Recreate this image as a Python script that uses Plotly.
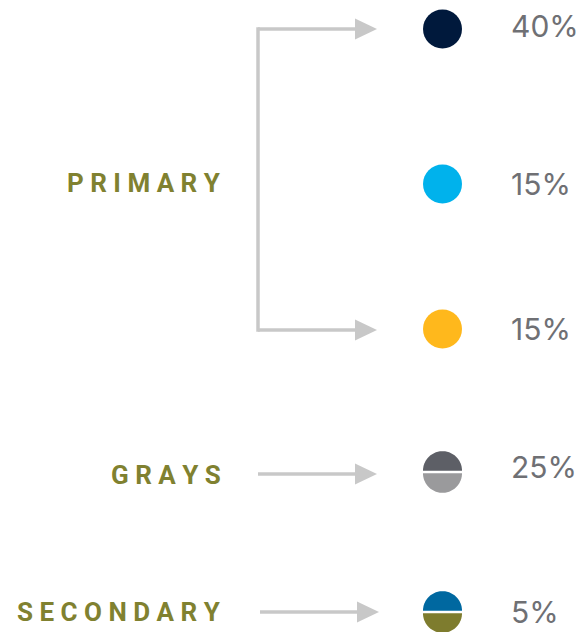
import numpy as np
import plotly.graph_objects as go

# ---- data ----
groups = ["PRIMARY", "GRAYS", "SECONDARY"]
swatch_group = ["PRIMARY", "PRIMARY", "PRIMARY", "GRAYS", "SECONDARY"]
shares = [40, 15, 15, 25, 5]
top_colors = ["#00193c", "#00b2ec", "#ffb81c", "#5d5f66", "#0068a0"]
bottom_colors = ["#00193c", "#00b2ec", "#ffb81c", "#9a9a9c", "#7e7c2e"]

# ---- layout constants (pixels) ----
W, H = 585, 632
sw_x = 442.5
sw_y = [29, 184, 329, 472, 612]
pct_y = [26, 184, 329, 467, 612]
R = 19.5
label_y = {"PRIMARY": 183, "GRAYS": 475, "SECONDARY": 612}
arrow_y = {"GRAYS": 474, "SECONDARY": 612}
arrow_x0 = {"GRAYS": 258, "SECONDARY": 260}
GRAY_LINE = "#c8c8c8"
OLIVE = "#808130"
TXT = "#6f7074"

fig = go.Figure()

th = np.linspace(0, np.pi, 60)
for i, v in enumerate(shares):
    cx, cy = sw_x, sw_y[i]
    if top_colors[i] == bottom_colors[i]:
        fig.add_trace(go.Scatter(x=[cx], y=[cy], mode="markers",
                                 marker=dict(size=2 * R, color=top_colors[i], line=dict(width=0)),
                                 hoverinfo="skip", showlegend=False))
    else:
        g = 1.3
        xt = cx + R * np.cos(th)
        yt = cy - g - R * np.sin(th)
        fig.add_trace(go.Scatter(x=np.r_[xt, xt[0]], y=np.r_[yt, cy - g], fill="toself",
                                 fillcolor=top_colors[i], mode="none",
                                 hoverinfo="skip", showlegend=False))
        yb = cy + g + R * np.sin(th)
        fig.add_trace(go.Scatter(x=np.r_[xt, xt[0]], y=np.r_[yb, cy + g], fill="toself",
                                 fillcolor=bottom_colors[i], mode="none",
                                 hoverinfo="skip", showlegend=False))
    fig.add_annotation(x=509, y=pct_y[i], xref="x", yref="y", text=f"{v}%", showarrow=False,
                       xanchor="left", yanchor="middle",
                       font=dict(family="Inter", size=30, color=TXT))

# labels
for gname in groups:
    fig.add_annotation(x=223, y=label_y[gname], xref="x", yref="y",
                       text=" ".join(list(gname)), showarrow=False,
                       xanchor="right", yanchor="middle",
                       font=dict(family="Roboto", size=26, color=OLIVE, weight="bold"))

# connectors
lw = 3.5
def hline(x0, x1, y):
    fig.add_shape(type="line", x0=x0, x1=x1, y0=y, y1=y, xref="x", yref="y",
                  line=dict(color=GRAY_LINE, width=lw))

def head(xtip, y):
    fig.add_shape(type="path", xref="x", yref="y",
                  path=f"M {xtip-22},{y-10.5} L {xtip},{y} L {xtip-22},{y+10.5} Z",
                  fillcolor=GRAY_LINE, line=dict(width=0))

# primary bracket
top_y, bot_y = sw_y[0], 330
fig.add_shape(type="line", x0=258, x1=258, y0=top_y - lw / 2, y1=bot_y + lw / 2, xref="x", yref="y",
              line=dict(color=GRAY_LINE, width=lw))
hline(258, 358, top_y)
head(377, top_y)
hline(258, 358, bot_y)
head(377, bot_y)
for gname in ["GRAYS", "SECONDARY"]:
    hline(arrow_x0[gname], arrow_x0[gname] + 100, arrow_y[gname])
    head(arrow_x0[gname] + 119, arrow_y[gname])

fig.update_layout(width=W, height=H, margin=dict(l=0, r=0, t=0, b=0),
                  paper_bgcolor="white", plot_bgcolor="white",
                  xaxis=dict(range=[0, W], visible=False, fixedrange=True),
                  yaxis=dict(range=[H, 0], visible=False, fixedrange=True))

fig.write_html("out.html", config={"displayModeBar": False},
               post_script="document.body.style.margin='0';document.body.style.overflow='hidden';")
